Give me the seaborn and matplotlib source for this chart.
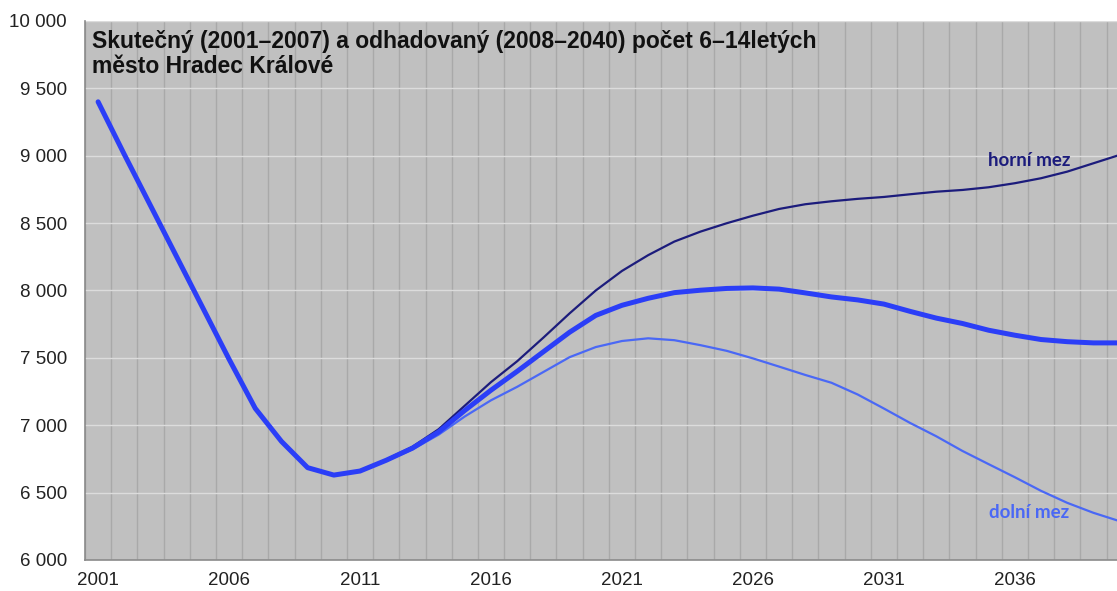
import numpy as np
import pandas as pd
import seaborn as sns
from matplotlib import pyplot as plt
from matplotlib.ticker import FuncFormatter, MultipleLocator

# actual + projected values (main line), 2001-2040
years = list(range(2001, 2041))
main = [9400, 9010, 8630, 8250, 7870, 7490, 7125, 6880, 6685, 6630,
        6660, 6740, 6830, 6950, 7110, 7260, 7400, 7545, 7690, 7815,
        7890, 7942, 7984, 8002, 8015, 8019, 8010, 7982, 7952, 7930,
        7899, 7845, 7795, 7755, 7705, 7668, 7636, 7620, 7611, 7611]

# upper / lower bounds of projection, 2007-2040
bound_years = list(range(2007, 2041))
upper = [7125, 6880, 6685, 6630,
         6660, 6745, 6840, 6970, 7145, 7320, 7475, 7650, 7830, 8000,
         8145, 8262, 8363, 8437, 8499, 8555, 8605, 8640, 8662, 8680,
         8694, 8714, 8733, 8746, 8766, 8796, 8833, 8882, 8944, 9006]
lower = [7125, 6880, 6685, 6630,
         6660, 6735, 6820, 6930, 7065, 7185, 7285, 7395, 7505, 7580,
         7625, 7645, 7631, 7594, 7552, 7496, 7435, 7373, 7315, 7228,
         7124, 7017, 6918, 6809, 6711, 6614, 6513, 6424, 6350, 6288]

title = "Skutečný (2001–2007) a odhadovaný (2008–2040) počet 6–14letých\nměsto Hradec Králové"

sns.set_style("white")
plt.rcParams['font.family'] = ['Liberation Sans', 'DejaVu Sans']

fig = plt.figure(figsize=(11.17, 5.91), dpi=100)
ax = fig.add_axes([0.0761, 0.0525, 0.9239, 0.912])
ax.set_facecolor('#c0c0c0')

sns.lineplot(x=bound_years, y=upper, ax=ax, color='#1c1c7c', linewidth=1.6, zorder=3)
sns.lineplot(x=bound_years, y=lower, ax=ax, color='#4a68f5', linewidth=1.6, zorder=3)
sns.lineplot(x=years, y=main, ax=ax, color='#2b3ef7', linewidth=3.6, zorder=4,
             solid_capstyle='round')

ax.set_xlim(2000.5, 2039.9)
ax.set_ylim(6000, 10000)

# year ticks: labels every 5 years, tick marks / gridlines between categories
ax.set_xticks(list(range(2001, 2041, 5)))
ax.set_xticks(np.arange(2000.5, 2040, 1), minor=True)
ax.tick_params(axis='x', which='major', length=0, labelsize=13.5, pad=9, labelcolor='#222222')
ax.tick_params(axis='x', which='minor', length=5, color='#8a8a8a', direction='out')
ax.grid(True, axis='x', which='minor', color='#a9a9a9', linewidth=1.0)

ax.yaxis.set_major_locator(MultipleLocator(500))
ax.yaxis.set_major_formatter(FuncFormatter(lambda v, p: f"{int(v):,}".replace(",", " ")))
ax.tick_params(axis='y', length=5, color='#8a8a8a', direction='out', labelsize=13.5,
               pad=8, labelcolor='#222222')
ax.grid(True, axis='y', which='major', color='#dcdcdc', linewidth=1.0)
ax.set_axisbelow(True)

for s in ['top', 'right']:
    ax.spines[s].set_visible(False)
for s in ['left', 'bottom']:
    ax.spines[s].set_color('#8a8a8a')
    ax.spines[s].set_linewidth(1.2)

ax.text(0.007, 0.983, title, transform=ax.transAxes, ha='left', va='top',
        fontsize=16.5, fontweight='bold', color='#111111', linespacing=1.1)

ax.text(2036.55, 8965, "horní mez", color='#1c1c7c', fontsize=13.5, fontweight='bold',
        family=['Lato', 'DejaVu Sans'], ha='center', va='center')
ax.text(2036.55, 6355, "dolní mez", color='#4a68f5', fontsize=13.5, fontweight='bold',
        family=['Lato', 'DejaVu Sans'], ha='center', va='center')

ax.set_xlabel("")
ax.set_ylabel("")
fig.savefig("out.png", dpi=100)
